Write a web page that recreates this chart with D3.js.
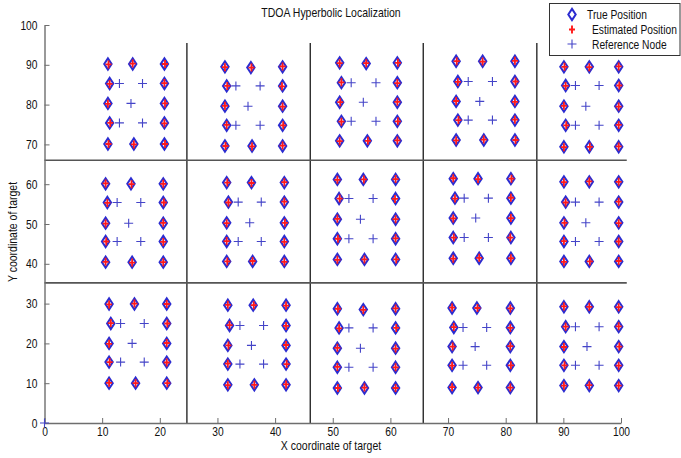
<!DOCTYPE html>
<html>
<head>
<meta charset="utf-8">
<script src="https://cdn.jsdelivr.net/npm/d3@7"></script>
<style>
  html, body { margin: 0; padding: 0; background: #fff; }
  svg { display: block; }
  text { font-family: "Liberation Sans", Arial, sans-serif; fill: #111; }
</style>
</head>
<body>
<svg id="chart" width="681" height="458"></svg>
<script>
// True target positions, one band of cells at a time (x, y)
const trueTop = [
  [11.0,90.2],[15.3,90.2],[20.8,90.2],[11.3,85.3],[20.8,85.3],[11.0,80.3],[20.8,80.3],[11.3,75.4],[20.8,75.4],[11.0,70.1],[15.5,70.1],[20.8,70.1],
  [31.3,89.5],[35.8,89.3],[41.3,89.5],[31.6,84.7],[41.3,84.7],[31.3,79.6],[41.3,79.6],[31.6,74.8],[41.3,74.8],[31.3,69.6],[36.0,69.6],[41.3,69.6],
  [51.2,90.5],[55.8,90.3],[61.2,90.5],[51.5,85.5],[61.2,85.5],[51.2,80.6],[61.2,80.6],[51.5,75.8],[61.2,75.8],[51.2,70.9],[56.0,70.9],[61.2,70.9],
  [71.4,90.9],[76.0,90.9],[81.6,90.9],[71.7,85.8],[81.6,85.8],[71.4,80.8],[81.6,80.8],[71.7,76.1],[81.6,76.1],[71.4,71.1],[76.2,71.1],[81.6,71.1],
  [90.1,89.5],[94.5,89.5],[99.6,89.5],[90.4,84.8],[99.6,84.8],[90.1,79.6],[99.6,79.6],[90.4,74.8],[99.6,74.8],[90.1,69.4],[94.5,69.4],[99.6,69.4]
];
const trueMiddle = [
  [10.6,60.1],[15.0,60.1],[20.6,60.1],[10.9,55.4],[20.6,55.4],[10.6,50.2],[20.6,50.2],[10.6,45.6],[20.6,45.6],[10.6,40.4],[15.2,40.4],[20.6,40.4],
  [31.6,60.4],[35.9,60.4],[41.6,60.4],[31.9,55.5],[41.6,55.5],[31.6,50.3],[41.6,50.3],[31.6,45.6],[41.6,45.6],[31.6,40.6],[36.1,40.6],[41.6,40.6],
  [50.8,61.2],[55.3,61.2],[60.9,61.2],[51.1,56.4],[60.9,56.4],[50.8,51.2],[60.9,51.2],[50.8,46.3],[60.9,46.3],[50.8,41.1],[55.5,41.1],[60.9,41.1],
  [70.9,61.4],[75.2,61.4],[80.9,61.4],[71.2,56.5],[80.9,56.5],[70.9,51.5],[80.9,51.5],[70.9,46.6],[80.9,46.6],[70.9,41.4],[75.4,41.4],[80.9,41.4],
  [90.1,60.6],[94.5,60.6],[99.6,60.6],[90.4,55.5],[99.6,55.5],[90.1,50.3],[99.6,50.3],[90.1,45.6],[99.6,45.6],[90.1,40.6],[94.5,40.6],[99.6,40.6]
];
const trueBottom = [
  [11.2,29.9],[15.6,29.9],[21.2,29.9],[11.5,25.0],[21.2,25.0],[11.2,20.0],[21.2,20.0],[11.2,15.3],[21.2,15.3],[11.2,10.0],[15.8,10.0],[21.2,10.0],
  [31.8,29.6],[36.2,29.6],[41.9,29.6],[32.1,24.5],[41.9,24.5],[31.8,19.5],[41.9,19.5],[31.8,14.8],[41.9,14.8],[31.8,9.6],[36.4,9.6],[41.9,9.6],
  [50.8,28.7],[55.3,28.5],[60.9,28.7],[51.1,23.9],[60.9,23.9],[50.8,18.8],[60.9,18.8],[50.8,14.0],[60.9,14.0],[50.8,8.8],[55.5,8.8],[60.9,8.8],
  [70.7,28.9],[75.0,28.9],[80.8,28.9],[71.0,24.0],[80.8,24.0],[70.7,19.2],[80.8,19.2],[70.7,14.5],[80.8,14.5],[70.7,8.9],[75.2,8.9],[80.8,8.9],
  [90.1,29.2],[94.5,29.2],[99.6,29.2],[90.4,24.2],[99.6,24.2],[90.1,19.2],[99.6,19.2],[90.1,14.5],[99.6,14.5],[90.1,9.4],[94.5,9.4],[99.6,9.4]
];

// TDOA estimates (x, y)
const estTop = [
  [11.1,90.1],[15.3,90.3],[20.9,90.2],[11.3,85.2],[20.8,85.4],[11.0,80.2],[20.9,80.3],[11.4,75.4],[20.8,75.3],[11.1,70.1],[15.5,70.0],[20.9,70.1],
  [31.3,89.4],[35.9,89.3],[41.3,89.6],[31.7,84.7],[41.2,84.6],[31.3,79.7],[41.3,79.5],[31.6,74.9],[41.4,74.8],[31.4,69.6],[36.0,69.5],[41.3,69.7],
  [51.2,90.4],[55.8,90.4],[61.3,90.5],[51.5,85.6],[61.2,85.4],[51.3,80.6],[61.2,80.7],[51.5,75.7],[61.3,75.8],[51.2,70.8],[56.1,70.9],[61.2,71.0],
  [71.5,90.9],[76.0,90.8],[81.6,91.0],[71.7,85.7],[81.7,85.8],[71.4,80.9],[81.6,80.7],[71.8,76.1],[81.6,76.2],[71.4,71.0],[76.2,71.2],[81.7,71.1],
  [90.2,89.5],[94.5,89.4],[99.6,89.6],[90.4,84.7],[99.7,84.8],[90.1,79.7],[99.6,79.5],[90.5,74.8],[99.6,74.9],[90.1,69.3],[94.6,69.4],[99.6,69.5]
];
const estMiddle = [
  [10.6,60.2],[15.1,60.0],[20.6,60.1],[10.9,55.3],[20.7,55.4],[10.6,50.1],[20.6,50.3],[10.7,45.6],[20.6,45.5],[10.6,40.5],[15.2,40.3],[20.6,40.4],
  [31.7,60.4],[35.9,60.3],[41.6,60.5],[31.9,55.4],[41.6,55.6],[31.6,50.2],[41.7,50.3],[31.6,45.7],[41.6,45.5],[31.7,40.6],[36.1,40.7],[41.6,40.5],
  [50.8,61.1],[55.4,61.2],[60.9,61.3],[51.2,56.4],[60.8,56.3],[50.8,51.3],[60.9,51.2],[50.9,46.3],[60.9,46.4],[50.8,41.0],[55.5,41.1],[61.0,41.1],
  [70.9,61.5],[75.2,61.3],[81.0,61.4],[71.2,56.4],[80.9,56.6],[70.9,51.4],[80.9,51.5],[71.0,46.6],[80.8,46.6],[70.9,41.3],[75.4,41.5],[80.9,41.4],
  [90.1,60.5],[94.5,60.7],[99.6,60.6],[90.4,55.4],[99.6,55.6],[90.2,50.3],[99.6,50.2],[90.1,45.7],[99.6,45.6],[90.1,40.5],[94.6,40.6],[99.6,40.7]
];
const estBottom = [
  [11.2,29.8],[15.6,30.0],[21.2,29.9],[11.5,25.1],[21.3,25.0],[11.2,19.9],[21.2,20.1],[11.3,15.3],[21.2,15.2],[11.2,10.1],[15.8,10.0],[21.3,10.0],
  [31.8,29.7],[36.3,29.6],[41.9,29.5],[32.1,24.6],[41.9,24.4],[31.9,19.5],[41.9,19.6],[31.8,14.9],[42.0,14.8],[31.8,9.5],[36.4,9.6],[41.9,9.7],
  [50.9,28.7],[55.3,28.4],[60.9,28.8],[51.1,23.8],[61.0,23.9],[50.8,18.9],[60.9,18.7],[50.8,14.1],[60.9,14.0],[50.9,8.8],[55.5,8.9],[60.9,8.8],
  [70.7,29.0],[75.1,28.9],[80.8,28.8],[71.0,24.1],[80.8,23.9],[70.8,19.2],[80.8,19.3],[70.7,14.4],[80.9,14.5],[70.7,9.0],[75.2,8.9],[80.8,8.9],
  [90.1,29.3],[94.5,29.2],[99.6,29.1],[90.4,24.2],[99.6,24.3],[90.1,19.1],[99.7,19.2],[90.2,14.5],[99.6,14.4],[90.1,9.4],[94.5,9.5],[99.6,9.4]
];

// Reference (anchor) nodes (x, y)
const refNodes = [
  [0,0],
  [13.0,85.3],[17.0,85.3],[15.0,80.3],[13.0,75.4],[17.0,75.4],
  [33.2,84.7],[37.4,84.7],[35.3,79.6],[33.2,74.8],[37.4,74.8],
  [53.2,85.5],[57.5,85.5],[55.3,80.6],[53.2,75.8],[57.5,75.8],
  [73.5,85.8],[77.7,85.8],[75.5,80.8],[73.5,76.1],[77.7,76.1],
  [92.1,84.8],[96.2,84.8],[93.9,79.6],[92.1,74.8],[96.2,74.8],
  [12.6,55.4],[16.7,55.4],[14.6,50.2],[12.6,45.6],[16.7,45.6],
  [33.6,55.5],[37.6,55.5],[35.6,50.3],[33.6,45.6],[37.6,45.6],
  [52.8,56.4],[57.0,56.4],[54.8,51.2],[52.8,46.3],[57.0,46.3],
  [72.8,56.5],[77.0,56.5],[74.8,51.5],[72.8,46.6],[77.0,46.6],
  [92.1,55.5],[96.2,55.5],[93.9,50.3],[92.1,45.6],[96.2,45.6],
  [13.2,25.0],[17.3,25.0],[15.2,20.0],[13.2,15.3],[17.3,15.3],
  [33.9,24.5],[38.0,24.5],[35.9,19.5],[33.9,14.8],[38.0,14.8],
  [52.8,23.9],[57.0,23.9],[54.8,18.8],[52.8,14.0],[57.0,14.0],
  [72.6,24.0],[76.7,24.0],[74.7,19.2],[72.6,14.5],[76.7,14.5],
  [92.1,24.2],[96.2,24.2],[94.1,19.2],[92.1,14.5],[96.2,14.5]
];

// Region boundaries
const columnBounds = [24.7, 46.1, 65.7, 85.4];
const columnTop = 95.5;
const rowBounds = [66.0, 35.2];

const xTicks = [0, 10, 20, 30, 40, 50, 60, 70, 80, 90, 100];
const yTicks = [0, 10, 20, 30, 40, 50, 60, 70, 80, 90, 100];
const legendLabels = ["True Position", "Estimated Position", "Reference Node"];

const BLUE = "#2c2cd0";
const REF_BLUE = "#4444c8";
const RED = "#ff1a1a";
const AXIS = "#6e6e6e";
const NARROW = 0.82; // horizontal squeeze for a narrow face

const svg = d3.select("#chart");
const x = d3.scaleLinear().domain([0, 100]).range([44.5, 621]);
const y = d3.scaleLinear().domain([0, 100]).range([423, 25]);

// partition lines
const g = svg.append("g");
g.selectAll("line.vb").data(columnBounds).join("line")
  .attr("class", "vb")
  .attr("x1", d => x(d)).attr("x2", d => x(d))
  .attr("y1", y(0)).attr("y2", y(columnTop))
  .attr("stroke", "#2a2a2a").attr("stroke-width", 1.4);
g.selectAll("line.hb").data(rowBounds).join("line")
  .attr("class", "hb")
  .attr("x1", x(0)).attr("x2", x(101))
  .attr("y1", d => y(d)).attr("y2", d => y(d))
  .attr("stroke", "#555").attr("stroke-width", 1.6);

// axes (ticks point inward)
const xAxis = svg.append("g").attr("transform", `translate(0,${y(0)})`)
  .call(d3.axisBottom(x).tickValues(xTicks).tickSize(-5).tickSizeOuter(0).tickPadding(4));
const yAxis = svg.append("g").attr("transform", `translate(${x(0)},0)`)
  .call(d3.axisLeft(y).tickValues(yTicks).tickSize(-5).tickSizeOuter(0).tickPadding(5));
[xAxis, yAxis].forEach(a => {
  a.select(".domain").attr("stroke", AXIS).attr("stroke-width", 1.4);
  a.selectAll(".tick line").attr("stroke", AXIS).attr("stroke-width", 1);
  a.selectAll(".tick text").attr("font-size", 12.5).attr("fill", "#111")
    .attr("font-family", '"Liberation Sans", Arial, sans-serif')
    .attr("transform", `scale(${NARROW},1)`);
});
yAxis.selectAll(".tick text").attr("x", -7 / NARROW);

// marker shapes
const diamondPath = "M0,-5.6L3.7,0L0,5.6L-3.7,0Z";
const redPlusPath = "M0,-4V4M-3,0H3";
const refPlusPath = "M0,-4.5V4.5M-4.5,0H4.5";

const trueAll = trueTop.concat(trueMiddle, trueBottom);
const estAll = estTop.concat(estMiddle, estBottom);

svg.append("g").selectAll("path").data(refNodes).join("path")
  .attr("d", refPlusPath)
  .attr("transform", d => `translate(${x(d[0])},${y(d[1])})`)
  .attr("fill", "none").attr("stroke", REF_BLUE).attr("stroke-width", 1.1);

svg.append("g").selectAll("path").data(trueAll).join("path")
  .attr("d", diamondPath)
  .attr("transform", d => `translate(${x(d[0])},${y(d[1])})`)
  .attr("fill", "none").attr("stroke", BLUE).attr("stroke-width", 2);

svg.append("g").selectAll("path").data(estAll).join("path")
  .attr("d", redPlusPath)
  .attr("transform", d => `translate(${x(d[0])},${y(d[1])})`)
  .attr("fill", "none").attr("stroke", RED).attr("stroke-width", 1.8);

// titles, squeezed horizontally to a narrow width
function label(txt, px, py, sx, rot) {
  return svg.append("text")
    .attr("transform", `translate(${px},${py})` + (rot ? ` rotate(${rot})` : "") + ` scale(${sx},1)`)
    .attr("text-anchor", "middle").attr("font-size", 12.5)
    .text(txt);
}
label("TDOA Hyperbolic Localization", 331, 17, 0.84);
label("X coordinate of target", 331, 450, 0.84);
label("Y coordinate of target", 17, 232, 0.84, -90);

// legend
const lg = svg.append("g");
lg.append("rect").attr("x", 549.5).attr("y", 3.5).attr("width", 130.5).attr("height", 52)
  .attr("fill", "#fff").attr("stroke", "#333").attr("stroke-width", 1);
const rowsY = [14.5, 29.5, 44];
lg.append("path").attr("d", diamondPath).attr("transform", `translate(572,${rowsY[0]})`)
  .attr("fill", "none").attr("stroke", BLUE).attr("stroke-width", 2);
lg.append("path").attr("d", redPlusPath).attr("transform", `translate(572,${rowsY[1]})`)
  .attr("fill", "none").attr("stroke", RED).attr("stroke-width", 1.9);
lg.append("path").attr("d", refPlusPath).attr("transform", `translate(572,${rowsY[2]})`)
  .attr("fill", "none").attr("stroke", REF_BLUE).attr("stroke-width", 1.1);
lg.selectAll("text").data(legendLabels).join("text")
  .attr("transform", (d, i) => `translate(${i === 0 ? 587 : 592},${rowsY[i] + 4.5}) scale(0.82,1)`)
  .attr("font-size", 12.5)
  .text(d => d);
</script>
</body>
</html>
